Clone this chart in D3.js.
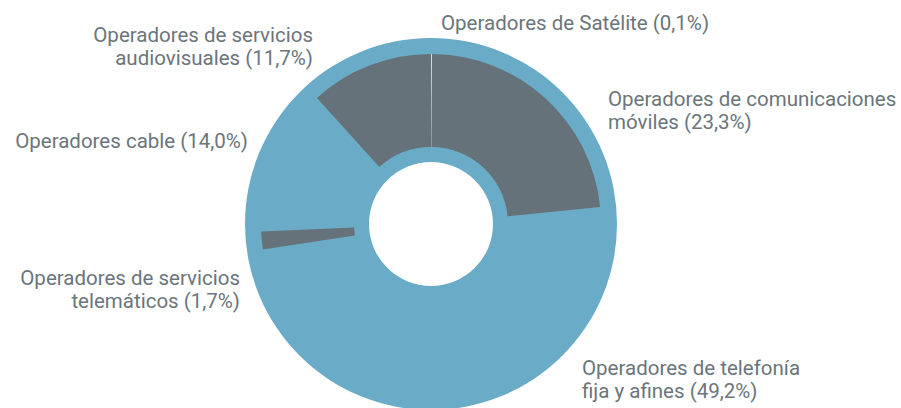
<!DOCTYPE html>
<html>
<head>
<meta charset="utf-8">
<script src="https://cdn.jsdelivr.net/npm/d3@7"></script>
<style>
  body { margin: 0; background: #fff; }
  text { font-family: Roboto, "Open Sans", sans-serif; fill: #6b757b; }
</style>
</head>
<body>
<div id="chart"></div>
<script>
// data, clockwise from 12 o'clock
var categories = ["Satélite", "comunicaciones móviles", "telefonía fija y afines",
  "servicios telemáticos", "cable", "servicios audiovisuales"];
var shares = [0.1, 23.3, 49.2, 1.7, 14.0, 11.7];
var highlighted = [true, true, false, true, false, true]; // drawn inset in grey
var labelLines = [
  ["Operadores de Satélite (0,1%)"],
  ["Operadores de comunicaciones", "móviles (23,3%)"],
  ["Operadores de telefonía", "fija y afines (49,2%)"],
  ["Operadores de servicios", "telemáticos (1,7%)"],
  ["Operadores cable (14,0%)"],
  ["Operadores de servicios", "audiovisuales (11,7%)"]
];

var width = 901, height = 408;
var cx = 431, cy = 224;
var rOuter = 186, rInner = 62, rGreyOut = 170, rGreyIn = 77;

var svg = d3.select("#chart").append("svg")
  .attr("width", width)
  .attr("height", height);

var g = svg.append("g").attr("transform", "translate(" + cx + "," + cy + ")");

var pie = d3.pie().sort(null).value(function(d) { return d; });
var arcs = pie(shares);

var blueArc = d3.arc().innerRadius(rInner).outerRadius(rOuter);
var greyArc = d3.arc().innerRadius(rGreyIn).outerRadius(rGreyOut);

// blue ring underneath everything
g.append("path")
  .attr("d", blueArc({startAngle: 0, endAngle: 2 * Math.PI}))
  .attr("fill", "#6aabc8");

g.selectAll("path.slice")
  .data(arcs.filter(function(d, i) { return highlighted[i]; }))
  .enter()
  .append("path")
  .attr("class", "slice")
  .attr("d", greyArc)
  .attr("fill", function(d) { return d.index === 0 ? "#d5dadd" : "#667279"; });

// labels: [x, first baseline, anchor]
var labelPos = [
  [441, 30, "start"],
  [608, 106, "start"],
  [582, 375, "start"],
  [240, 285, "end"],
  [248, 148, "end"],
  [313, 42, "end"]
];

labelLines.forEach(function(lines, i) {
  var t = svg.append("text")
    .attr("x", labelPos[i][0])
    .attr("y", labelPos[i][1])
    .attr("text-anchor", labelPos[i][2])
    .attr("font-size", 20.5);
  lines.forEach(function(s, j) {
    t.append("tspan")
      .attr("x", labelPos[i][0])
      .attr("dy", j === 0 ? 0 : 22.5)
      .text(s);
  });
});
</script>
</body>
</html>
